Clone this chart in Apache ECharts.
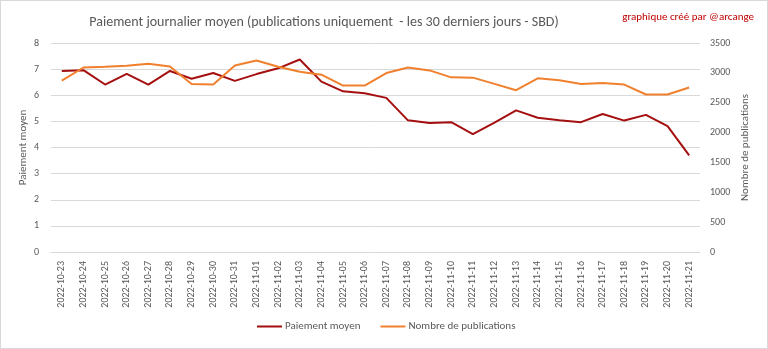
<!DOCTYPE html>
<html><head><meta charset="utf-8">
<script src="https://cdn.jsdelivr.net/npm/echarts@6/dist/echarts.min.js"></script>
<style>
html,body{margin:0;padding:0;background:#fff;}
#c{position:absolute;left:0;top:0;width:766px;height:347px;border:1px solid #d9d9d9;}
</style></head><body>
<div id="c"></div>
<script>
const categories = ["2022-10-23","2022-10-24","2022-10-25","2022-10-26","2022-10-27","2022-10-28","2022-10-29","2022-10-30","2022-10-31","2022-11-01","2022-11-02","2022-11-03","2022-11-04","2022-11-05","2022-11-06","2022-11-07","2022-11-08","2022-11-09","2022-11-10","2022-11-11","2022-11-12","2022-11-13","2022-11-14","2022-11-15","2022-11-16","2022-11-17","2022-11-18","2022-11-19","2022-11-20","2022-11-21"];
const paiementMoyen = [6.93,6.96,6.41,6.82,6.41,6.93,6.63,6.85,6.55,6.81,7.03,7.37,6.52,6.15,6.08,5.9,5.04,4.94,4.97,4.51,4.95,5.42,5.14,5.04,4.97,5.28,5.03,5.25,4.82,3.7];
const nombrePublications = [2870,3090,3102,3118,3152,3107,2815,2803,3124,3207,3102,3019,2969,2787,2787,2997,3091,3041,2925,2920,2815,2709,2908,2875,2815,2831,2803,2637,2637,2754];
const leftTicks = [0,8,1];
const rightTicks = [0,3500,500];

const chart = echarts.init(document.getElementById('c'), null, {renderer:'canvas'});
const font = "Calibri, 'Open Sans', 'Noto Sans', sans-serif";
chart.setOption({
  animation:false,
  textStyle:{fontFamily:font},
  title:[
    {text:'Paiement journalier moyen (publications uniquement  - les 30 derniers jours - SBD)',left:318,top:9,textAlign:'center',
     textStyle:{fontFamily:font,fontSize:14,fontWeight:'normal',color:'#595959'}},
    {text:'graphique créé par @arcange',right:8,top:6,
     textStyle:{fontFamily:font,fontSize:11,fontWeight:'normal',color:'#c00000'}}
  ],
  legend:{bottom:11,left:251,itemWidth:25,itemHeight:2,itemGap:20,icon:'rect',
    textStyle:{fontFamily:font,fontSize:11,color:'#595959',padding:[0,0,0,-2]},
    data:['Paiement moyen','Nombre de publications']},
  grid:{left:50,right:67,top:42,bottom:96},
  xAxis:{type:'category',data:categories,boundaryGap:true,
    axisLine:{lineStyle:{color:'#d9d9d9'}},axisTick:{show:false},
    axisLabel:{rotate:90,fontSize:10,color:'#595959',interval:0,margin:9,fontFamily:font}},
  yAxis:[
    {type:'value',min:leftTicks[0],max:leftTicks[1],interval:leftTicks[2],
     name:'Paiement moyen',nameLocation:'middle',nameGap:22,nameRotate:90,nameMoveOverlap:false,
     nameTextStyle:{fontSize:11,color:'#595959',fontFamily:font},
     axisLine:{show:false},axisTick:{show:false},
     axisLabel:{fontSize:10,color:'#595959',margin:12,fontFamily:font},
     splitLine:{lineStyle:{color:'#d9d9d9'}}},
    {type:'value',min:rightTicks[0],max:rightTicks[1],interval:rightTicks[2],
     name:'Nombre de publications',nameLocation:'middle',nameGap:40,nameRotate:90,nameMoveOverlap:false,
     nameTextStyle:{fontSize:11,color:'#595959',fontFamily:font},
     axisLine:{show:false},axisTick:{show:false},
     axisLabel:{fontSize:10,color:'#595959',margin:10,fontFamily:font,formatter:function(v){return String(v);}},
     splitLine:{show:false}}
  ],
  series:[
    {name:'Paiement moyen',type:'line',yAxisIndex:0,data:paiementMoyen,symbol:'none',
     lineStyle:{color:'#a50f0f',width:2},itemStyle:{color:'#a50f0f'}},
    {name:'Nombre de publications',type:'line',yAxisIndex:1,data:nombrePublications,symbol:'none',
     lineStyle:{color:'#f0802e',width:2},itemStyle:{color:'#f0802e'}}
  ]
});
</script></body></html>
